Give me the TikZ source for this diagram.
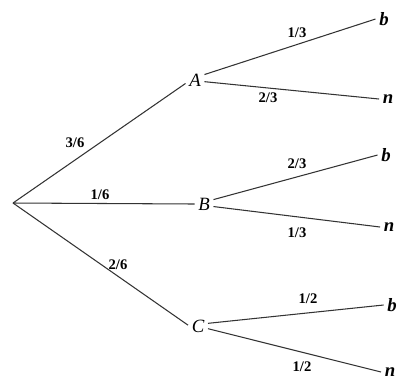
\documentclass[tikz,border=0pt]{standalone}
\usepackage{fontspec}
\setmainfont{Liberation Serif}
\usetikzlibrary{calc}

\begin{document}
\begin{tikzpicture}[x=0.03cm,y=-0.03cm,
  event/.style={font=\fontsize{16}{16}\selectfont\itshape, inner sep=3pt},
  leaf/.style={font=\fontsize{16}{16}\selectfont\bfseries\itshape, inner sep=3pt},
  prob/.style={font=\fontsize{12.5}{13}\selectfont\bfseries, inner sep=0pt},
  branch/.style={draw=black!80, line width=0.9pt}]
\useasboundingbox (0,0) rectangle (398,379);
% root and first level
\coordinate (O) at (13,203);
\node[event] (A) at (195,80) {A};
\node[event] (B) at (204,204) {B};
\node[event] (C) at (198,326) {C};
% second level
\node[leaf] (Ab) at (384,19) {b};
\node[leaf] (An) at (388,99) {n};
\node[leaf] (Bb) at (386,155) {b};
\node[leaf] (Bn) at (389,227) {n};
\node[leaf] (Cb) at (392,305) {b};
\node[leaf] (Cn) at (390,372) {n};
% branches
\draw[branch] (O) -- (A.200);
\draw[branch] (O) -- (B.west);
\draw[branch] (O) -- (C.175);
\draw[branch] (A.30) -- (Ab.west);
\draw[branch] (A.-10) -- (An.west);
\draw[branch] (B.25) -- (Bb.west);
\draw[branch] (B.-15) -- (Bn.west);
\draw[branch] (C.15) -- (Cb.west);
\draw[branch] (C.-15) -- (Cn.west);
% probabilities
\node[prob] (pA) at (75,143) {3/6};
\node[prob] (pB) at (100,195) {1/6};
\node[prob] (pC) at (118,265) {2/6};
\node[prob] (pAb) at (297,33) {1/3};
\node[prob] (pAn) at (268,98) {2/3};
\node[prob] (pBb) at (297,164) {2/3};
\node[prob] (pBn) at (297,233) {1/3};
\node[prob] (pCb) at (308,299) {1/2};
\node[prob] (pCn) at (302,367) {1/2};
\end{tikzpicture}
\end{document}
